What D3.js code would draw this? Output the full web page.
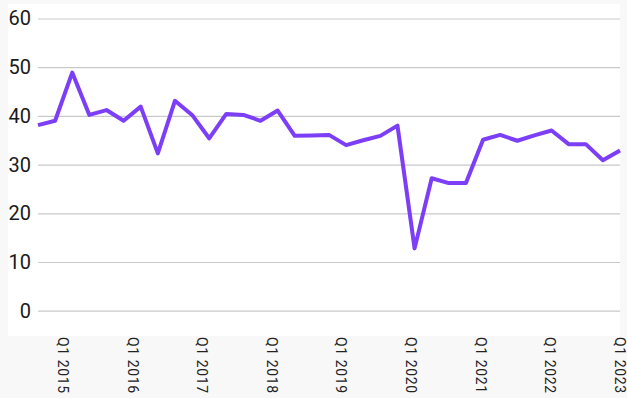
<!DOCTYPE html>
<html>
<head>
<meta charset="utf-8">
<script src="https://cdn.jsdelivr.net/npm/d3@7"></script>
<style>
  body { margin: 0; background: #f8f8f8; }
  svg { display: block; }
</style>
</head>
<body>
<svg id="chart"></svg>
<script>
// quarterly series, Q3 2014 .. Q1 2023
const quarters = [];
for (let yr = 2014, q = 3; quarters.length < 35; ) {
  quarters.push(`Q${q} ${yr}`);
  q++;
  if (q > 4) { q = 1; yr++; }
}

const values = [
  38.1, 39.0, 48.9, 40.2, 41.2, 39.0, 41.9, 32.3, 43.1, 40.2,
  35.4, 40.4, 40.2, 39.0, 41.1, 35.9, 36.0, 36.1, 34.0, 35.0,
  35.9, 38.0, 12.8, 27.2, 26.2, 26.2, 35.1, 36.1, 34.9, 36.0,
  37.0, 34.2, 34.2, 30.9, 32.9
];

const yTicks = [0, 10, 20, 30, 40, 50, 60];
const xTickLabels = ["Q1 2015", "Q1 2016", "Q1 2017", "Q1 2018", "Q1 2019",
                     "Q1 2020", "Q1 2021", "Q1 2022", "Q1 2023"];

const width = 627, height = 398;
const plot = { left: 38, right: 620, top: 18.5, bottom: 310.7 };

const svg = d3.select("#chart")
  .attr("width", width)
  .attr("height", height);

// white panel behind the plot
svg.append("rect")
  .attr("x", 8).attr("y", 4)
  .attr("width", plot.right - 8)
  .attr("height", 336 - 4)
  .attr("fill", "#fff");

const x = d3.scalePoint()
  .domain(quarters)
  .range([plot.left, plot.right]);

const y = d3.scaleLinear()
  .domain([0, 60])
  .range([plot.bottom, plot.top]);

// labels are spread a bit differently from the points in the source chart
const xLab = d3.scalePoint()
  .domain(xTickLabels)
  .range([62.8, 620]);

// y axis + gridlines
const yAxis = svg.append("g")
  .attr("transform", `translate(${plot.left},0)`)
  .call(d3.axisLeft(y)
    .tickValues(yTicks)
    .tickSize(-(plot.right - plot.left))
    .tickPadding(7));

yAxis.select(".domain").remove();
yAxis.selectAll(".tick line")
  .attr("stroke", "#c9c9c9")
  .attr("stroke-width", 1.2);
yAxis.selectAll(".tick text")
  .attr("fill", "#1a1a1a")
  .attr("font-family", "Roboto, sans-serif")
  .attr("font-size", 20);

// rotated x labels
svg.append("g")
  .selectAll("text")
  .data(xTickLabels)
  .join("text")
  .attr("transform", d => `translate(${xLab(d)},337) rotate(90)`)
  .attr("dy", "0.35em")
  .attr("text-anchor", "start")
  .attr("fill", "#222")
  .attr("font-family", "Roboto, sans-serif")
  .attr("font-size", 14)
  .attr("letter-spacing", 0.6)
  .text(d => d);

// series line
const line = d3.line()
  .x((d, i) => x(quarters[i]))
  .y(d => y(d));

svg.append("path")
  .datum(values)
  .attr("fill", "none")
  .attr("stroke", "#7c3ef7")
  .attr("stroke-width", 4)
  .attr("stroke-linejoin", "round")
  .attr("d", line);
</script>
</body>
</html>
